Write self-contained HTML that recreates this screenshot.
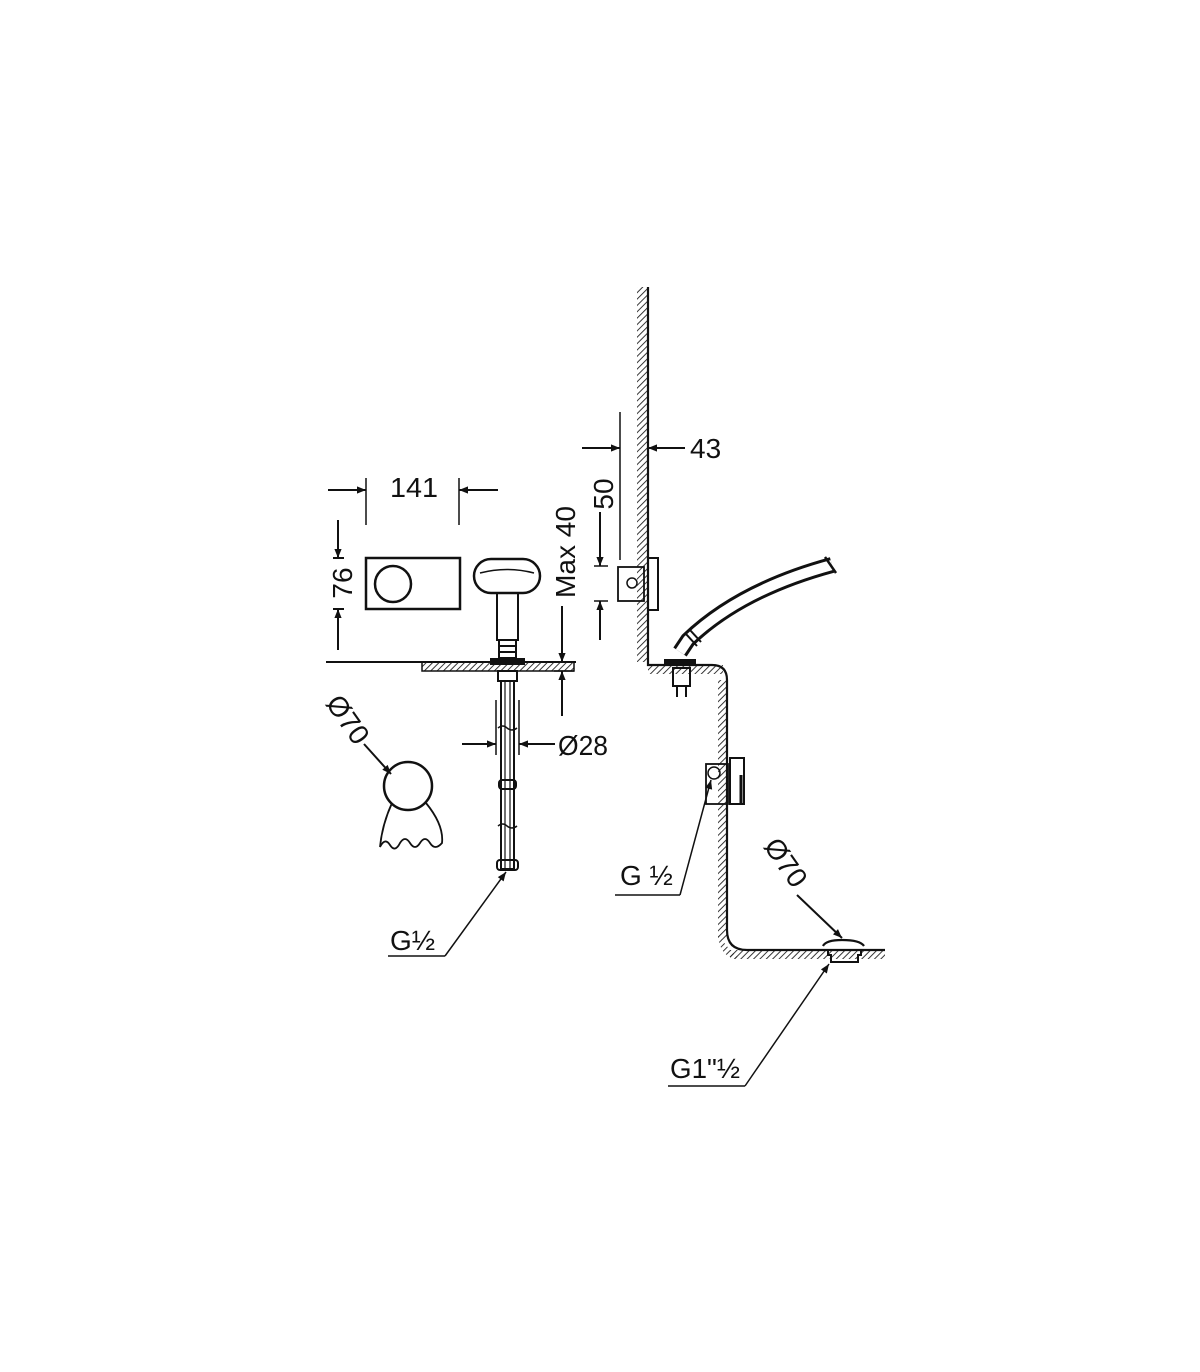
<!DOCTYPE html>
<html><head><meta charset="utf-8"><style>
html,body{margin:0;padding:0;background:#fff;}
svg{display:block}
text{font-family:"Liberation Sans Narrow","Liberation Sans",sans-serif;font-size:28px;fill:#111}
</style></head><body>
<svg width="1200" height="1372" viewBox="0 0 1200 1372" xmlns="http://www.w3.org/2000/svg">
<defs>
<pattern id="h" width="4.5" height="4.5" patternUnits="userSpaceOnUse" patternTransform="rotate(45)">
<line x1="0" y1="0" x2="0" y2="4.5" stroke="#222" stroke-width="1.8"/>
</pattern>
<marker id="a" viewBox="0 0 10 10" refX="10" refY="5" markerWidth="18" markerHeight="9" markerUnits="userSpaceOnUse" orient="auto">
<path d="M0,1 L10,5 L0,9 z" fill="#111"/></marker>
</defs>
<g stroke="#111" stroke-width="2" fill="none">
<line x1="326" y1="662" x2="576" y2="662"/>
<rect x="422" y="662" width="152" height="9" fill="url(#h)" stroke-width="1.5"/>
<rect x="366" y="558" width="94" height="51" stroke-width="2.5"/>
<circle cx="393" cy="584" r="18" stroke-width="2.5"/>
<line x1="366" y1="478" x2="366" y2="525" stroke-width="1.5"/>
<line x1="459" y1="478" x2="459" y2="525" stroke-width="1.5"/>
<line x1="328" y1="490" x2="366" y2="490" marker-end="url(#a)"/>
<line x1="498" y1="490" x2="459" y2="490" marker-end="url(#a)"/>
<line x1="338" y1="520" x2="338" y2="558" marker-end="url(#a)"/>
<line x1="338" y1="650" x2="338" y2="609" marker-end="url(#a)"/>
<line x1="333" y1="558" x2="344" y2="558"/><line x1="333" y1="609" x2="344" y2="609"/>
<rect x="474" y="559" width="66" height="34" rx="17" ry="17" stroke-width="2.5"/>
<path d="M480,573 Q507,566 534,573" stroke-width="1.5"/>
<rect x="497" y="593" width="21" height="47" stroke-width="2"/>
<rect x="499" y="640" width="17" height="18" stroke-width="2"/>
<line x1="499" y1="646" x2="516" y2="646"/><line x1="499" y1="652" x2="516" y2="652"/>
<rect x="491" y="659" width="33" height="5" fill="#111"/>
<rect x="498" y="671" width="19" height="10"/>
<rect x="501" y="681" width="13" height="188"/>
<line x1="505" y1="681" x2="505" y2="869" stroke-width="1.2"/>
<line x1="510" y1="681" x2="510" y2="869" stroke-width="1.2"/>
<rect x="499" y="780" width="17" height="9" rx="3"/>
<path d="M498,728 q5,-4 9,0 q5,4 10,0 M498,826 q5,-4 9,0 q5,4 10,0" stroke-width="1.5"/>
<rect x="497" y="860" width="21" height="10" rx="3"/>
<line x1="496" y1="700" x2="496" y2="755" stroke-width="1.5"/>
<line x1="519" y1="700" x2="519" y2="755" stroke-width="1.5"/>
<line x1="462" y1="744" x2="496" y2="744" marker-end="url(#a)"/>
<line x1="555" y1="744" x2="519" y2="744" marker-end="url(#a)"/>
<line x1="562" y1="606" x2="562" y2="662" marker-end="url(#a)"/>
<line x1="562" y1="716" x2="562" y2="671" marker-end="url(#a)"/>
<line x1="554" y1="671" x2="574" y2="671" stroke-width="1.5"/>
<line x1="364" y1="744" x2="391" y2="774" marker-end="url(#a)"/>
<circle cx="408" cy="786" r="24" stroke-width="2.5"/>
<path d="M392,803 Q382,825 380,847 q5,-10 10,-2 q5,8 10,-2 q5,-8 10,0 q5,8 10,0 q5,-8 10,0 q5,8 12,0 Q444,825 426,803" stroke-width="1.8"/>
<line x1="388" y1="956" x2="445" y2="956" stroke-width="1.5"/>
<line x1="445" y1="956" x2="506" y2="872" stroke-width="1.5" marker-end="url(#a)"/>
<rect x="637" y="287" width="11" height="375" fill="url(#h)" stroke="none"/>
<rect x="648" y="665" width="75" height="9" fill="url(#h)" stroke="none"/>
<rect x="718" y="680" width="9" height="260" fill="url(#h)" stroke="none"/>
<rect x="730" y="950" width="155" height="9" fill="url(#h)" stroke="none"/>
<path d="M718,935 Q720,959 740,959 L730,950 Z" fill="url(#h)" stroke="none"/>
<path d="M648,287 L648,665 L712,665 Q727,665 727,680 L727,930 Q727,950 747,950 L885,950" stroke-width="2.2"/>
<line x1="620" y1="412" x2="620" y2="560" stroke-width="1.5"/>
<line x1="582" y1="448" x2="620" y2="448" marker-end="url(#a)"/>
<line x1="685" y1="448" x2="648" y2="448" marker-end="url(#a)"/>
<line x1="600" y1="512" x2="600" y2="566" marker-end="url(#a)"/>
<line x1="594" y1="566" x2="608" y2="566" stroke-width="1.5"/>
<line x1="594" y1="601" x2="608" y2="601" stroke-width="1.5"/>
<line x1="600" y1="640" x2="600" y2="601" marker-end="url(#a)"/>
<rect x="618" y="567" width="26" height="34" stroke-width="1.8"/>
<circle cx="632" cy="583" r="5" stroke-width="1.5"/>
<rect x="648" y="558" width="10" height="52" stroke-width="2"/>
<path d="M680,652 L688,640 Q740,590 832,565" stroke="#111" stroke-width="16" stroke-linecap="butt"/>
<path d="M680,652 L688,640 Q740,590 832,565" stroke="#fff" stroke-width="10" stroke-linecap="butt"/>
<line x1="825" y1="557" x2="836" y2="573" stroke-width="2.5"/>
<line x1="686" y1="634" x2="697" y2="646" stroke-width="2"/>
<line x1="690" y1="630" x2="701" y2="642" stroke-width="2"/>
<rect x="665" y="660" width="30" height="5" fill="#111"/>
<rect x="673" y="668" width="17" height="18" stroke-width="2"/>
<line x1="677" y1="686" x2="677" y2="697"/><line x1="686" y1="686" x2="686" y2="697"/>
<rect x="706" y="764" width="22" height="40" stroke-width="1.8"/>
<circle cx="714" cy="773" r="6" stroke-width="1.5"/>
<rect x="730" y="758" width="14" height="46" stroke-width="2"/>
<line x1="741" y1="775" x2="741" y2="804" stroke-width="3"/>
<line x1="615" y1="895" x2="680" y2="895" stroke-width="1.5"/>
<line x1="680" y1="895" x2="711" y2="780" stroke-width="1.5" marker-end="url(#a)"/>
<line x1="797" y1="895" x2="842" y2="938" marker-end="url(#a)"/>
<path d="M823,946 Q826,940 842,940 Q860,940 864,946" stroke-width="2.2"/>
<path d="M828,950 L828,955 L831,955 L831,962 L858,962 L858,955 L861,955 L861,950" stroke-width="2"/>
<line x1="668" y1="1086" x2="745" y2="1086" stroke-width="1.5"/>
<line x1="745" y1="1086" x2="829" y2="964" stroke-width="1.5" marker-end="url(#a)"/>
</g>
<text x="390" y="497" textLength="48" lengthAdjust="spacingAndGlyphs">141</text>
<text transform="translate(352,583) rotate(-90)" text-anchor="middle">76</text>
<text transform="translate(575,552) rotate(-90)" text-anchor="middle" textLength="92" lengthAdjust="spacingAndGlyphs">Max 40</text>
<text transform="translate(613,494) rotate(-90)" text-anchor="middle">50</text>
<text x="690" y="458">43</text>
<text x="558" y="755" textLength="50" lengthAdjust="spacingAndGlyphs">Ø28</text>
<text transform="translate(340,725) rotate(55)" text-anchor="middle">Ø70</text>
<text transform="translate(778,868) rotate(55)" text-anchor="middle">Ø70</text>
<text x="390" y="950">G½</text>
<text x="620" y="885">G ½</text>
<text x="670" y="1078" textLength="70" lengthAdjust="spacingAndGlyphs">G1"½</text>
</svg>
</body></html>
